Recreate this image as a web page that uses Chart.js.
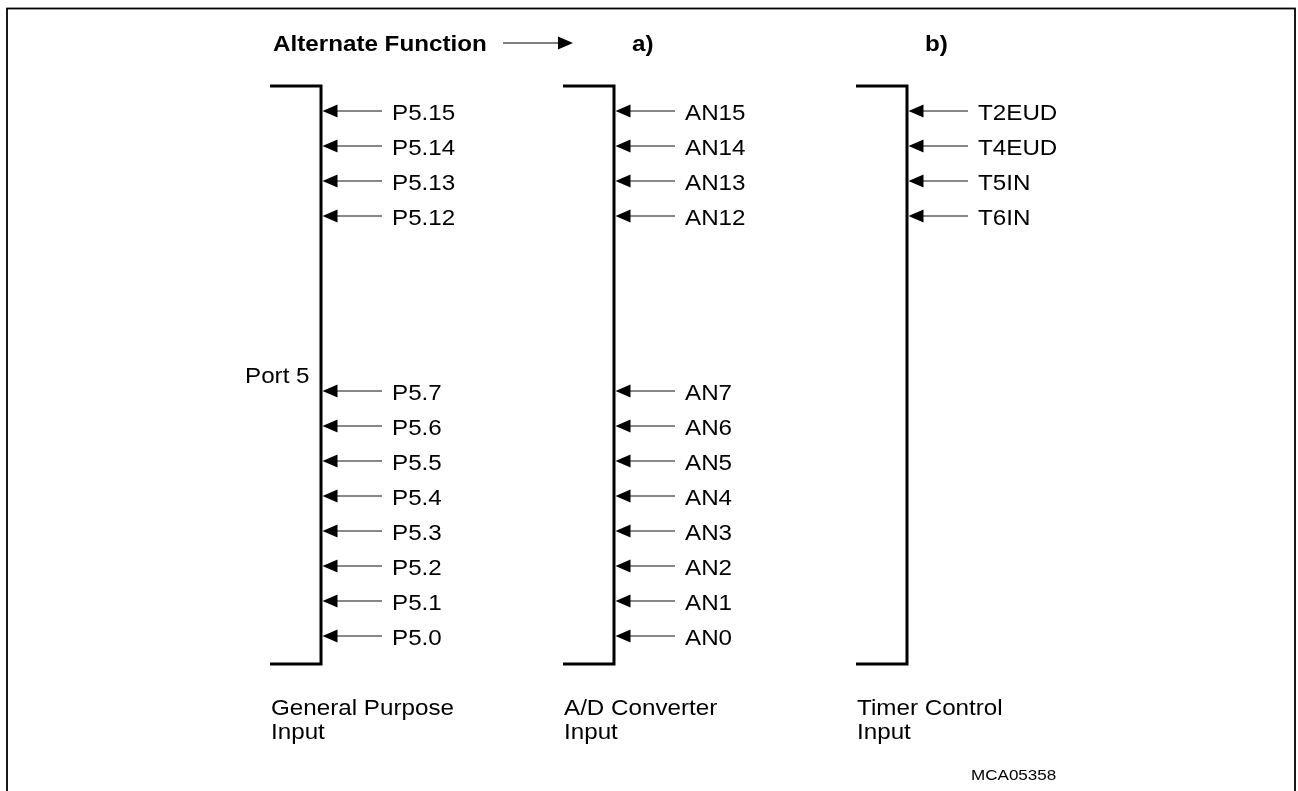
<!DOCTYPE html>
<html>
<head>
<meta charset="utf-8">
<script src="https://cdn.jsdelivr.net/npm/chart.js@4.4.0/dist/chart.umd.min.js"></script>
<style>
  html, body { margin: 0; padding: 0; background: #fff; }
  #wrap { width: 1298px; height: 791px; }
</style>
</head>
<body>
<div id="wrap"><canvas id="diagram"></canvas></div>
<script>
// pin numbers of port 5 and the alternate functions on them
const pins = [15, 14, 13, 12, 7, 6, 5, 4, 3, 2, 1, 0];
const gpLabels = ['P5.15', 'P5.14', 'P5.13', 'P5.12', 'P5.7', 'P5.6', 'P5.5', 'P5.4', 'P5.3', 'P5.2', 'P5.1', 'P5.0'];
const adLabels = ['AN15', 'AN14', 'AN13', 'AN12', 'AN7', 'AN6', 'AN5', 'AN4', 'AN3', 'AN2', 'AN1', 'AN0'];
const timerPins = [15, 14, 13, 12];
const timerLabels = ['T2EUD', 'T4EUD', 'T5IN', 'T6IN'];
const groupNames = [['General Purpose', 'Input'], ['A/D Converter', 'Input'], ['Timer Control', 'Input']];
const headerLabels = ['Alternate Function', 'a)', 'b)'];
const portName = 'Port 5';
const figureId = 'MCA05358';

// layout (x in pixel units, y in pin units)
const bracketX = [321, 614, 907];
const bracketTop = 15.714, bracketBottom = -0.8;
const columns = [
    { pins: pins, labels: gpLabels },
    { pins: pins, labels: adLabels },
    { pins: timerPins, labels: timerLabels }
];
const FONT = "'Liberation Sans', Arial, sans-serif";
const STRETCH = 1.1;

const datasets = [];
columns.forEach((col, i) => {
    const bx = bracketX[i];
    datasets.push({
        data: [{ x: bx - 51, y: bracketTop }, { x: bx, y: bracketTop }, { x: bx, y: bracketBottom }, { x: bx - 51, y: bracketBottom }],
        borderColor: '#000', borderWidth: 3, borderJoinStyle: 'miter', borderCapStyle: 'butt'
    });
    const shaft = [];
    col.pins.forEach(p => {
        shaft.push({ x: bx + 14, y: p }, { x: bx + 61, y: p }, { x: bx + 61, y: null });
    });
    datasets.push({ data: shaft, borderColor: '#111', borderWidth: 1.2, spanGaps: false });
});

function arrowHead(ctx, tipX, y, dir) {
    ctx.beginPath();
    ctx.moveTo(tipX, y);
    ctx.lineTo(tipX + dir * 15, y - 6.5);
    ctx.lineTo(tipX + dir * 15, y + 6.5);
    ctx.closePath();
    ctx.fill();
}

function text(ctx, str, x, y, size, bold) {
    ctx.save();
    ctx.font = (bold ? 'bold ' : '') + size + 'px ' + FONT;
    ctx.textBaseline = 'middle';
    ctx.textAlign = 'left';
    ctx.translate(x, y + 1.5);
    ctx.scale(STRETCH, 1);
    ctx.fillText(str, 0, 0);
    ctx.restore();
}

const diagramPlugin = {
    id: 'diagram',
    afterDatasetsDraw(chart) {
        const ctx = chart.ctx;
        const xs = chart.scales.x, ys = chart.scales.y;
        ctx.save();
        ctx.fillStyle = '#000';
        ctx.strokeStyle = '#000';

        // frame
        ctx.lineWidth = 1.8;
        ctx.strokeRect(xs.getPixelForValue(7), 8.5, xs.getPixelForValue(1295) - xs.getPixelForValue(7), 900);

        // arrow heads and pin labels
        columns.forEach((col, i) => {
            const bx = xs.getPixelForValue(bracketX[i]);
            col.pins.forEach((p, j) => {
                const y = ys.getPixelForValue(p);
                arrowHead(ctx, bx + 1.5, y, 1);
                text(ctx, col.labels[j], bx + 71, y + 1, 22, false);
            });
            const names = groupNames[i];
            text(ctx, names[0], bx - 50, ys.getPixelForValue(-2.03), 22, false);
            text(ctx, names[1], bx - 50, ys.getPixelForValue(-2.74), 22, false);
        });

        // header
        const hy = 43;
        text(ctx, headerLabels[0], 273, hy, 22, true);
        ctx.lineWidth = 1.2;
        ctx.beginPath();
        ctx.moveTo(503, hy);
        ctx.lineTo(560, hy);
        ctx.stroke();
        arrowHead(ctx, 573, hy, -1);
        text(ctx, headerLabels[1], bracketX[1] + 18, hy, 22, true);
        text(ctx, headerLabels[2], bracketX[2] + 18, hy, 22, true);

        text(ctx, portName, 245, ys.getPixelForValue(7.45), 22, false);
        text(ctx, figureId, 971, 774, 15.5, false);
        ctx.restore();
    }
};

new Chart(document.getElementById('diagram'), {
    type: 'scatter',
    data: { datasets: datasets },
    options: {
        responsive: true,
        maintainAspectRatio: false,
        animation: false,
        showLine: true,
        layout: { padding: 0 },
        elements: { point: { radius: 0, hoverRadius: 0 } },
        plugins: { legend: { display: false }, tooltip: { enabled: false } },
        scales: {
            x: { type: 'linear', display: false, min: 0, max: 1298 },
            y: { type: 'linear', display: false, min: -4.4286, max: 18.1714 }
        }
    },
    plugins: [diagramPlugin]
});
</script>
</body>
</html>
